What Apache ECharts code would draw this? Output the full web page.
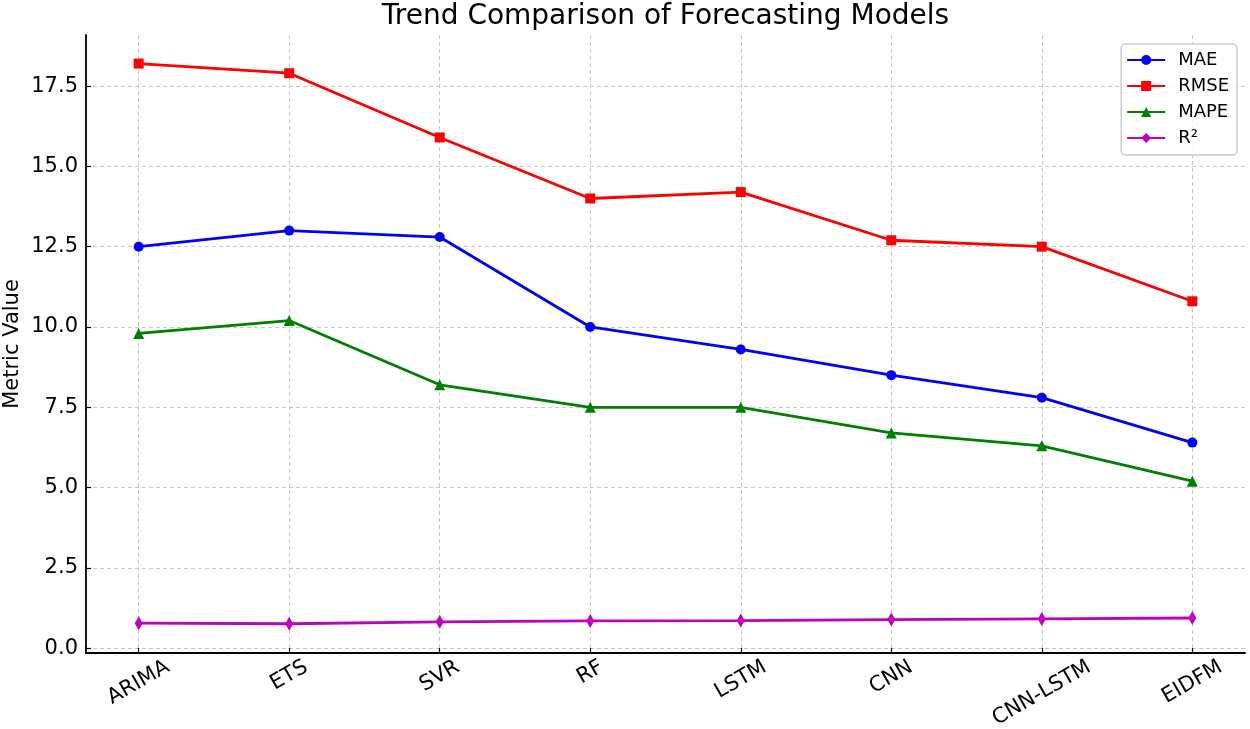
<!DOCTYPE html>
<html><head><meta charset="utf-8">
<script src="https://cdn.jsdelivr.net/npm/echarts@6/dist/echarts.min.js"></script>
<style>html,body{margin:0;padding:0;background:#fff}#c{width:1250px;height:729px}</style>
</head><body><div id="c"></div>
<script>
const categories = ['ARIMA', 'ETS', 'SVR', 'RF', 'LSTM', 'CNN', 'CNN-LSTM', 'EIDFM'];
const maeValues  = [12.5, 13.0, 12.8, 10.0, 9.3, 8.5, 7.8, 6.4];
const rmseValues = [18.2, 17.9, 15.9, 14.0, 14.2, 12.7, 12.5, 10.8];
const mapeValues = [9.8, 10.2, 8.2, 7.5, 7.5, 6.7, 6.3, 5.2];
const r2Values   = [0.78, 0.76, 0.82, 0.85, 0.86, 0.89, 0.91, 0.94];
const yTickValues = [0, 2.5, 5, 7.5, 10, 12.5, 15, 17.5];
const seriesNames = ['MAE', 'RMSE', 'MAPE', 'R²'];
const titleText = 'Trend Comparison of Forecasting Models';

const FONT = 'DejaVu Sans';
const TICK_FS = 21;
const TITLE_FS = 28;
const xIdx = categories.map((c, i) => i);

const cv = document.createElement('canvas').getContext('2d');
cv.font = TICK_FS + 'px "' + FONT + '"';
const rich = {};
categories.forEach((c, i) => {
  const w = cv.measureText(c).width;
  const H = TICK_FS * 1.17;
  const d = 2 + (w * 0.5 + H * 0.866) / 2;
  rich['c' + i] = {
    fontFamily: FONT, fontSize: TICK_FS, color: '#000',
    padding: [2 * d * 0.866, d, 0, 0]
  };
});
cv.font = TITLE_FS + 'px "' + FONT + '"';
const titleW = cv.measureText(titleText).width;

const toPts = arr => arr.map((v, i) => [i, v]);

const mk = (name, data, color, symbol, size) => ({
  name, type: 'line', data: toPts(data),
  symbol, symbolSize: size,
  lineStyle: { color, width: 2.8 },
  itemStyle: { color },
  emphasis: { disabled: true },
  animation: false
});

const chart = echarts.init(document.getElementById('c'), null, { renderer: 'canvas' });
chart.setOption({
  backgroundColor: '#fff',
  animation: false,
  title: {
    text: titleText,
    left: 665.5 - titleW / 2, top: 0,
    padding: [3, 0, 0, 0],
    textStyle: { fontFamily: FONT, fontSize: TITLE_FS, fontWeight: 'normal', color: '#000' }
  },
  legend: {
    orient: 'vertical', right: 13, top: 44,
    data: seriesNames,
    itemWidth: 38, itemHeight: 12.5, itemGap: 8,
    padding: [7, 8, 8, 5],
    borderColor: '#cccccc', borderWidth: 1.5, borderRadius: 4,
    backgroundColor: 'rgba(255,255,255,0.8)',
    textStyle: { fontFamily: FONT, fontSize: 18, color: '#000', lineHeight: 18, padding: [0, 0, 0, 8] }
  },
  grid: { left: 86, right: 5, top: 35, bottom: 76, containLabel: false, outerBoundsMode: 'none' },
  xAxis: {
    type: 'value', min: -0.35, max: 7.35,
    axisLine: { show: true, onZero: false, lineStyle: { color: '#000', width: 1.8 } },
    axisTick: { show: true, inside: true, length: 5, customValues: xIdx, lineStyle: { color: '#000', width: 1.2 } },
    axisLabel: {
      customValues: xIdx, rotate: 30, margin: 0,
      align: 'center', verticalAlign: 'middle',
      formatter: v => '{c' + Math.round(v) + '|' + categories[Math.round(v)] + '}',
      rich
    },
    splitLine: { show: true, lineStyle: { color: '#c8c8c8', width: 1, type: [4, 3] } }
  },
  yAxis: {
    type: 'value', min: -0.15, max: 19.09,
    name: 'Metric Value', nameLocation: 'middle', nameRotate: 90, nameGap: 63,
    nameMoveOverlap: false,
    nameTextStyle: { fontFamily: FONT, fontSize: 21, color: '#000' },
    axisLine: { show: true, onZero: false, lineStyle: { color: '#000', width: 1.8 } },
    axisTick: { show: true, inside: true, length: 5, customValues: yTickValues, lineStyle: { color: '#000', width: 1.2 } },
    axisLabel: {
      customValues: yTickValues, margin: 8,
      fontFamily: FONT, fontSize: TICK_FS, color: '#000',
      formatter: v => Number(v).toFixed(1)
    },
    splitLine: { show: true, lineStyle: { color: '#c8c8c8', width: 1, type: [4, 3] } }
  },
  series: [
    mk('MAE', maeValues, '#0000ff', 'circle', 10),
    mk('RMSE', rmseValues, '#ff0000', 'rect', 10),
    mk('MAPE', mapeValues, '#008000', 'triangle', 11),
    mk('R²', r2Values, '#bf00bf', 'diamond', [8, 14])
  ]
});
</script></body></html>
